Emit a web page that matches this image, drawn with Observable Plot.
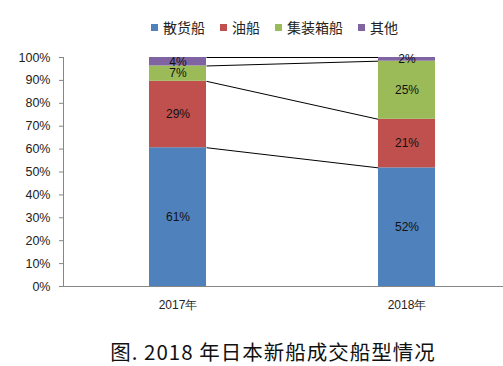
<!DOCTYPE html>
<html>
<head>
<meta charset="utf-8">
<script src="https://cdn.jsdelivr.net/npm/d3@7"></script>
<script src="https://cdn.jsdelivr.net/npm/@observablehq/plot@0.6"></script>
<style>
  html, body { margin: 0; padding: 0; background: #fff; }
  #wrap { position: relative; width: 503px; height: 366px; overflow: hidden; font-family: "Noto Sans CJK SC", sans-serif; }
  #legend { position: absolute; left: 151px; top: 17px; height: 20px; display: flex; align-items: center; font-size: 14px; color: #222; white-space: nowrap; }
  #legend .item { display: flex; align-items: center; margin-right: 15px; }
  #legend .sw { width: 7px; height: 7px; margin-right: 5px; }
  #chart { position: absolute; left: 0; top: 45px; }
  #title { position: absolute; left: 0; width: 546px; top: 336px; text-align: center; font-size: 20.5px; letter-spacing: 1px; color: #111; white-space: nowrap; }
</style>
</head>
<body>
<div id="wrap">
  <div id="legend"></div>
  <div id="chart"></div>
  <div id="title"></div>
</div>
<script>
const years = ["2017年", "2018年"];
const types = ["散货船", "油船", "集装箱船", "其他"];
const share2017 = [60.6, 29.0, 6.7, 3.7];
const share2018 = [51.8, 21.2, 25.4, 1.6];
const colors = ["#4F81BD", "#C0504D", "#9BBB59", "#8064A2"];
const yTicks = [0, 10, 20, 30, 40, 50, 60, 70, 80, 90, 100];
const titleText = "图. 2018 年日本新船成交船型情况";

const shares = [share2017, share2018];
const barHalf = 0.1245; // half bar width in category units

const segs = [];
shares.forEach((vals, i) => {
  let acc = 0;
  vals.forEach((v, j) => {
    segs.push({i, type: types[j], y1: acc, y2: acc + v, v});
    acc += v;
  });
});

const links = [];
let c0 = 0, c1 = 0;
types.forEach((t, j) => {
  c0 += share2017[j]; c1 += share2018[j];
  links.push({y1: c0, y2: c1});
});

const chart = Plot.plot({
  width: 503,
  height: 275,
  marginLeft: 63,
  marginRight: 0,
  marginTop: 12,
  marginBottom: 34,
  x: {type: "linear", domain: [0, 2], range: [63, 521]},
  y: {domain: [0, 100]},
  color: {domain: types, range: colors},
  style: {fontFamily: "'Liberation Sans', sans-serif", fontSize: "12.5px", color: "#222", overflow: "visible"},
  marks: [
    Plot.link(links, {
      x1: () => 0.5 + barHalf, x2: () => 1.5 - barHalf,
      y1: "y1", y2: "y2", stroke: "#000", strokeWidth: 1
    }),
    Plot.rect(segs, {
      x1: d => d.i + 0.5 - barHalf, x2: d => d.i + 0.5 + barHalf,
      y1: "y1", y2: "y2", fill: "type"
    }),
    Plot.text(segs, {
      x: d => d.i + 0.5, y: d => (d.y1 + d.y2) / 2,
      text: d => Math.round(d.v) + "%", fill: "#111",
      fontSize: 12, fontFamily: "'Liberation Sans', sans-serif"
    }),
    Plot.axisY({ticks: yTicks, tickFormat: d => d + "%", tickSize: 4, tickPadding: 9, stroke: "#868686", label: null, fontSize: 12.5}),
    Plot.ruleX([0], {stroke: "#868686"}),
    Plot.ruleY([0], {stroke: "#868686"}),
    Plot.axisX({ticks: [0.5, 1.5], tickFormat: d => years[Math.floor(d)], tickSize: 0, tickPadding: 14, label: null, fontSize: 12})
  ]
});
document.getElementById("chart").appendChild(chart);

const legend = document.getElementById("legend");
types.forEach((t, j) => {
  const it = document.createElement("div");
  it.className = "item";
  const sw = document.createElement("div");
  sw.className = "sw";
  sw.style.background = colors[j];
  const tx = document.createElement("span");
  tx.textContent = t;
  it.appendChild(sw); it.appendChild(tx);
  legend.appendChild(it);
});
document.getElementById("title").textContent = titleText;
</script>
</body>
</html>
